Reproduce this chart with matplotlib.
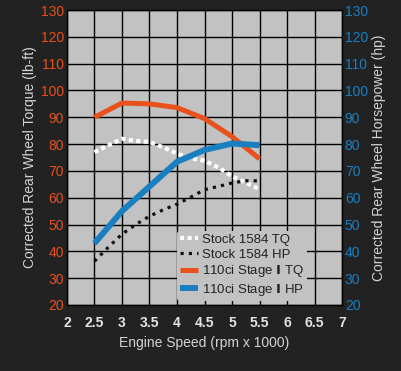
import matplotlib
matplotlib.use("Agg")
import matplotlib.pyplot as plt

plt.rcParams['font.family'] = ['Liberation Sans', 'DejaVu Sans']

# Data
rpm_fine = [2.5, 2.75, 3.0, 3.25, 3.5, 3.75, 4.0, 4.25, 4.5, 4.75, 5.0, 5.25, 5.5]
stock_tq = [77.0, 79.5, 82.0, 81.2, 80.8, 78.8, 76.5, 74.7, 73.8, 71.3, 68.0, 65.6, 63.2]
stock_hp = [36.3, 41.5, 46.4, 50.0, 53.1, 55.5, 57.6, 60.2, 63.0, 64.2, 65.5, 66.3, 66.3]
rpm = [2.5, 3.0, 3.5, 4.0, 4.5, 5.0, 5.5]
stage1_tq = [90.0, 95.3, 95.0, 93.6, 89.5, 82.8, 74.5]
stage1_hp = [43.0, 55.0, 64.2, 73.4, 77.8, 80.2, 79.6]

x_ticks = [2, 2.5, 3, 3.5, 4, 4.5, 5, 5.5, 6, 6.5, 7]
x_labels = ["2", "2.5", "3", "3.5", "4", "4.5", "5", "5.5", "6", "6.5", "7"]
y_ticks = list(range(20, 131, 10))

BG = "#222222"
AXBG = "#c2c2c2"
ORANGE = "#e8501c"
BLUE = "#1a7fc1"
LABEL = "#d4d4d4"

fig = plt.figure(figsize=(4.01, 3.71), dpi=100, facecolor=BG)
ax = fig.add_axes([0.167, 0.178, 0.686, 0.795])
ax.set_facecolor(AXBG)

ax.plot(rpm_fine, stock_tq, color="white", lw=3.0,
        linestyle=(0, (1, 0.8)), label="Stock 1584 TQ", zorder=3)
ax.plot(rpm_fine, stock_hp, color="#111111", lw=2.3,
        linestyle=(0, (1, 1.6)), label="Stock 1584 HP", zorder=3)
ax.plot(rpm, stage1_tq, color=ORANGE, lw=3.6, label="110ci Stage $\\mathbf{I}$ TQ",
        zorder=4, solid_capstyle="butt")
ax.plot(rpm, stage1_hp, color=BLUE, lw=4.3, label="110ci Stage $\\mathbf{I}$ HP",
        zorder=4, solid_capstyle="butt")

ax.set_xlim(2, 7)
ax.set_ylim(20, 130)
ax.set_xticks(x_ticks)
ax.set_xticklabels(x_labels, fontweight="bold")
ax.set_yticks(y_ticks)
ax.grid(True, color="black", lw=1.0, zorder=1)
ax.set_axisbelow(True)
for s in ax.spines.values():
    s.set_color("black")
    s.set_linewidth(1.0)

ax.tick_params(axis="x", length=0, colors="#e2e2e2", labelsize=10, pad=8)
ax.tick_params(axis="y", length=0, labelcolor=ORANGE, labelsize=10, pad=2)

ax2 = ax.twinx()
ax2.set_ylim(20, 130)
ax2.set_yticks(y_ticks)
ax2.tick_params(axis="y", length=0, labelcolor=BLUE, labelsize=10, pad=2)
for s in ax2.spines.values():
    s.set_visible(False)

ax.set_xlabel("Engine Speed (rpm x 1000)", color=LABEL, fontsize=10, labelpad=4)
ax.set_ylabel("Corrected Rear Wheel Torque (lb-ft)", color=LABEL, fontsize=10, labelpad=3)
ax2.set_ylabel("Corrected Rear Wheel Horsepower (hp)", color=LABEL, fontsize=10, labelpad=3)

leg = ax2.legend(*ax.get_legend_handles_labels(), loc="lower left",
                 bbox_to_anchor=(0.40, 0.015), frameon=True, facecolor=AXBG,
                 edgecolor="none", framealpha=1, fontsize=9.5, handlelength=1.4,
                 handletextpad=0.3, labelspacing=0.2, borderpad=0.2, borderaxespad=0)
for t in leg.get_texts():
    t.set_color("#222222")

fig.savefig("out.png", dpi=100, facecolor=BG)
